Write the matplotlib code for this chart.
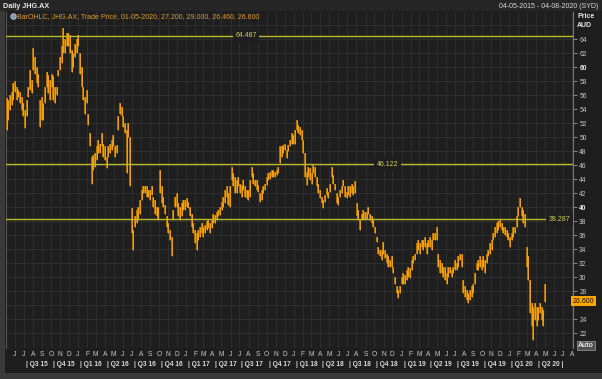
import matplotlib.pyplot as plt
import matplotlib.transforms as mtransforms
import pandas as pd

plt.rcParams['font.family'] = ['Liberation Sans', 'DejaVu Sans']

hi = [55.6, 55.3, 56.0, 56.5, 57.7, 58.0, 57.2, 56.8, 56.5, 55.8, 54.9, 53.9, 55.3, 57.2, 59.6, 58.2,
      62.7, 61.5, 60.1, 59.1, 55.3, 55.8, 54.9, 57.2, 59.4, 58.9, 58.2, 59.1, 58.7, 57.2, 57.2, 59.6,
      61.5, 63.0, 65.6, 64.1, 64.9, 64.9, 64.6, 62.5, 62.0, 63.4, 64.1, 64.6, 62.0, 60.1, 57.2, 55.8,
      56.8, 53.4, 50.6, 47.2, 47.5, 47.7, 48.7, 49.6, 49.1, 50.6, 49.1, 48.7, 47.2, 48.7, 49.1, 49.6,
      50.3, 48.7, 48.9, 53.0, 54.9, 54.4, 53.0, 52.0, 51.0, 52.0, 50.1, 39.9, 36.8, 38.7, 39.6, 40.1,
      41.0, 42.5, 43.0, 43.0, 43.0, 42.5,
      42.5, 43.0, 41.5, 41.0, 40.1, 40.1, 45.3, 43.0, 41.5, 40.3, 38.7, 37.7, 36.8, 35.8, 39.6, 41.5,
      42.0, 40.6, 40.1, 40.6, 41.0, 41.0, 41.3, 40.8, 40.1, 39.1, 37.7, 36.8, 36.3, 36.8, 37.2, 37.7,
      37.2, 37.5, 38.0, 38.2, 37.7, 38.2, 39.1, 38.9, 39.4, 39.6, 40.1, 40.8, 41.5, 42.5, 43.0, 42.0,
      43.0, 45.8, 44.9, 44.4, 43.9, 44.4, 43.4, 43.2, 43.9, 43.0, 42.5, 42.5, 43.9, 45.8, 44.9, 43.9,
      43.9, 43.2, 42.0, 42.5, 43.0, 43.4, 44.4, 44.9, 45.1, 45.3, 45.3, 45.1, 45.3, 45.8, 48.7, 48.7,
      48.9, 49.1, 48.2, 48.9, 49.6, 50.6, 50.3,
      51.1, 52.5, 51.8, 51.5, 51.0, 49.6, 47.7, 45.1, 45.8, 45.6, 44.9, 46.0, 45.8, 44.4, 43.4, 42.5,
      41.5, 41.0, 41.8, 42.7, 42.2, 43.4, 45.8, 44.6, 43.4, 42.0, 41.5, 42.5, 43.0, 43.9, 43.0, 42.2,
      43.0, 43.0, 43.4, 43.0, 43.7, 40.6, 39.6, 38.2, 39.1, 39.6, 39.4, 39.4, 40.1, 39.1, 38.7, 38.2,
      37.2, 35.8, 34.4, 33.9, 33.9, 35.1, 33.9, 33.4, 33.0, 32.5, 33.0, 31.5, 30.1, 28.7, 28.2, 28.7,
      30.1, 30.6, 30.3, 31.0, 31.5, 31.3, 32.5, 33.0, 33.4, 34.9, 35.3, 34.9, 35.3, 35.3, 35.8, 34.9,
      35.3, 35.8, 35.3, 36.3, 36.3,
      37.2, 33.4, 32.5, 32.0, 31.5, 31.5, 30.6, 31.5, 31.5, 31.0, 31.5, 32.5, 32.0, 33.0, 33.4, 33.4,
      29.6, 28.7, 28.2, 27.7, 28.2, 28.7, 29.1, 30.6, 32.0, 32.5, 33.0, 32.5, 33.0, 32.5, 33.4, 33.9,
      34.9, 35.3, 36.3, 37.2, 37.7, 38.0, 38.4, 37.7, 37.2, 37.2, 36.8, 36.3, 35.8, 36.3, 37.2, 37.2,
      38.7, 40.1, 41.3, 40.1, 39.6, 39.1, 34.4, 33.0, 29.6, 26.3, 25.8, 26.3, 25.8, 25.8, 26.3, 25.8,
      25.4, 29.0]
lo = [51.0, 52.5, 53.9, 54.6, 55.3, 56.5, 55.3, 55.8, 54.9, 53.9, 53.0, 51.3, 53.0, 55.8, 56.8, 56.3,
      59.6, 59.1, 57.7, 57.2, 51.5, 52.5, 52.5, 54.9, 57.2, 56.3, 55.3, 57.2, 55.3, 54.9, 56.0, 58.7,
      59.6, 60.6, 62.0, 62.0, 63.0, 63.0, 62.0, 59.4, 60.1, 61.5, 62.0, 63.0, 59.1, 57.2, 55.3, 53.4,
      54.9, 51.8, 48.7, 43.4, 45.3, 45.8, 46.8, 47.7, 47.7, 48.7, 47.2, 46.8, 45.6, 47.2, 47.7, 48.2,
      48.7, 47.2, 47.7, 51.0, 53.4, 53.0, 51.5, 50.6, 44.9, 50.1, 43.0, 36.3, 33.9, 37.2, 37.7, 38.2,
      39.1, 41.0, 42.0, 42.0, 41.5, 41.5,
      41.0, 41.8, 40.1, 39.1, 38.7, 38.2, 42.0, 40.6, 40.1, 39.1, 37.2, 36.3, 35.3, 33.0, 38.2, 40.1,
      40.1, 38.7, 38.2, 38.7, 39.6, 39.6, 40.1, 39.9, 38.7, 37.2, 36.3, 34.9, 33.9, 35.3, 35.8, 36.3,
      35.8, 36.3, 36.8, 37.0, 36.3, 37.0, 37.7, 37.7, 38.2, 38.7, 38.9, 39.6, 40.1, 40.6, 41.5, 40.3,
      40.1, 43.9, 43.0, 42.0, 42.0, 43.0, 42.0, 41.5, 42.5, 41.5, 41.3, 41.0, 41.5, 44.4, 43.4, 43.0,
      42.5, 42.2, 40.8, 41.0, 42.0, 42.5, 43.2, 43.9, 44.1, 44.4, 44.4, 44.4, 44.6, 44.9, 46.3, 47.2,
      47.7, 48.2, 47.0, 48.0, 48.7, 49.1, 49.1,
      49.1, 51.0, 50.6, 50.3, 49.6, 47.7, 44.4, 43.2, 44.4, 43.9, 43.4, 44.9, 44.4, 43.0, 42.0, 41.3,
      40.6, 39.9, 40.8, 41.8, 41.3, 42.2, 44.4, 43.4, 42.5, 40.6, 40.3, 41.5, 42.0, 43.0, 41.5, 41.3,
      41.8, 41.5, 42.0, 41.8, 42.0, 38.7, 38.2, 36.8, 38.2, 38.4, 38.2, 38.4, 39.1, 38.2, 37.7, 37.2,
      36.3, 35.1, 33.4, 33.0, 32.5, 33.4, 32.7, 32.0, 31.5, 31.5, 31.5, 30.6, 29.1, 27.7, 27.0, 27.7,
      29.1, 29.1, 29.1, 29.6, 30.1, 29.9, 31.0, 32.0, 32.5, 33.4, 33.9, 33.4, 34.4, 33.9, 34.4, 33.4,
      34.4, 34.4, 33.9, 35.3, 35.3,
      35.3, 31.5, 30.6, 30.6, 30.1, 29.6, 29.1, 30.1, 30.6, 30.1, 30.6, 31.0, 31.0, 31.5, 32.5, 31.5,
      27.7, 27.2, 26.8, 26.3, 26.8, 27.2, 27.7, 29.1, 31.0, 31.0, 31.5, 31.0, 31.5, 30.6, 32.0, 33.0,
      33.4, 33.9, 35.3, 35.8, 36.3, 36.8, 37.2, 36.8, 36.3, 36.0, 35.8, 35.3, 34.4, 35.3, 35.8, 36.3,
      37.2, 38.7, 40.1, 38.7, 37.7, 37.2, 31.5, 29.6, 24.9, 23.0, 21.0, 23.9, 23.0, 23.9, 24.9, 23.9,
      23.0, 26.5]
dates = pd.date_range('2015-05-04', '2020-05-01', periods=len(hi))

levels = [64.487, 46.122, 38.287]
level_labels = ['64.487', '46.122', '38.287']
last_close = 26.600
legend_text = 'BarOHLC, JHG.AX, Trade Price, 01-05-2020, 27.200, 29.000, 26.460, 26.600'
y_ticks = list(range(22, 65, 2))

months = pd.date_range('2015-06-01', '2020-08-01', freq='MS')
quarters = pd.date_range('2015-07-01', '2020-04-01', freq='QS')
month_letters = [d.strftime('%b')[0] for d in months]
quarter_labels = ['Q%d %02d' % ((d.month - 1) // 3 + 1, d.year % 100) for d in quarters]

W, H = 602, 379
fig = plt.figure(figsize=(W / 100, H / 100), dpi=100, facecolor='#1e1e1e')

# side strips of the terminal window
fig.patches.append(plt.Rectangle((0, 0), 5 / W, 1, transform=fig.transFigure, fc='#3a3a3a', ec='none'))
fig.patches.append(plt.Rectangle((0, 0), 1, 6 / H, transform=fig.transFigure, fc='#3a3a3a', ec='none'))
fig.patches.append(plt.Rectangle((0, 1 - 11 / H), 1, 11 / H, transform=fig.transFigure, fc='#262626', ec='none'))

ax = fig.add_axes([6 / W, 31 / H, 567 / W, 336 / H])
ax.set_facecolor('#1f1f1f')

ax.vlines(dates, lo, hi, color='#c07a00', lw=1.3, zorder=3)
ax.vlines(dates, lo, hi, color='#ffa812', lw=0.6, zorder=4)

for lev, lab, xd in zip(levels, level_labels, ['2017-07-23', '2018-11-15', '2020-06-20']):
    ax.axhline(lev, color='#bdbb2a', lw=1.0, zorder=5)
    ax.text(pd.Timestamp(xd), lev, lab, ha='center', va='center', fontsize=5, color='#cfcf55', zorder=6,
            bbox=dict(boxstyle='square,pad=0.35', fc='#1f1f1f', ec='none'))

ax.set_xlim(pd.Timestamp('2015-05-02'), pd.Timestamp('2020-08-04'))
ax.set_ylim(19.9, 67.9)

ax.set_xticks(months)
ax.set_yticks(y_ticks)
ax.grid(True, color='#2e2e2e', lw=0.8, zorder=0)
ax.axhline(66, color='#2e2e2e', lw=0.8, zorder=0)
ax.tick_params(axis='x', length=0, labelbottom=False)
ax.yaxis.tick_right()
ax.tick_params(axis='y', length=3, width=0.6, color='#9a9a9a', labelcolor='#c8c8c8', labelsize=4.8, pad=1.5)
# the 26 label sits under the last-price tag
ax.set_yticklabels(['' if v == 26 else str(v) for v in y_ticks])
for t, v in zip(ax.get_yticklabels(), y_ticks):
    if v % 20 == 0:
        t.set_fontweight('bold')
        t.set_color('#e8e8e8')

for s in ['top', 'bottom']:
    ax.spines[s].set_visible(False)
ax.spines['left'].set_color('#555555')
ax.spines['right'].set_color('#777777')
ax.spines['right'].set_linewidth(0.8)

# bottom axis: month letters and quarters
tr = mtransforms.blended_transform_factory(ax.transData, fig.transFigure)
for d, m in zip(months, month_letters):
    ax.text(d, 1 - 355 / H, m, transform=tr, ha='center', va='center', fontsize=4.8, color='#c8c8c8',
            clip_on=False)
tr_q = mtransforms.offset_copy(tr, fig=fig, x=2, y=0, units='dots')
for i, (d, q) in enumerate(zip(quarters, quarter_labels)):
    txt = '| ' + q + (' |' if i == len(quarters) - 1 else '')
    ax.text(d, 1 - 365 / H, txt, transform=tr_q, ha='left', va='center', fontsize=4.8,
            fontweight='bold', color='#d8d8d8', clip_on=False)

# right side labels
trr = mtransforms.blended_transform_factory(ax.transAxes, ax.transData)
ax.text(1.0, last_close, '%.3f' % last_close, transform=trr, ha='left', va='center',
        fontsize=5, color='#111111', zorder=10, clip_on=False,
        bbox=dict(boxstyle='square,pad=0.25', fc='#ffa500', ec='none'))
fig.text(577 / W, 1 - 16.7 / H, 'Price', fontsize=5, fontweight='bold', color='#e6e6e6', va='center')
fig.text(577 / W, 1 - 25.3 / H, 'AUD', fontsize=5, fontweight='bold', color='#e6e6e6', va='center')
fig.text(578 / W, 1 - 345.5 / H, 'Auto', fontsize=5, fontweight='bold', color='#e6e6e6', va='center',
         bbox=dict(boxstyle='square,pad=0.2', fc='#505050', ec='#a0a0a0', lw=0.5))

# header and legend
fig.text(3 / W, 1 - 6 / H, 'Daily JHG.AX', fontsize=5.2, fontweight='bold', color='#e6e6e6', va='center')
fig.text(598 / W, 1 - 6.5 / H, '04-05-2015 - 04-08-2020 (SYD)', fontsize=5, color='#d8d8d8', va='center', ha='right')
ax.plot([13 / W], [1 - 16 / H], 'o', transform=fig.transFigure, ms=4, mfc='#7d96b2', mec='#d0d8e2', mew=0.5,
        clip_on=False, zorder=10)
fig.text(17 / W, 1 - 16.5 / H, legend_text, fontsize=5, color='#e09a30', va='center')

fig.savefig('out.png', dpi=100, facecolor=fig.get_facecolor())
